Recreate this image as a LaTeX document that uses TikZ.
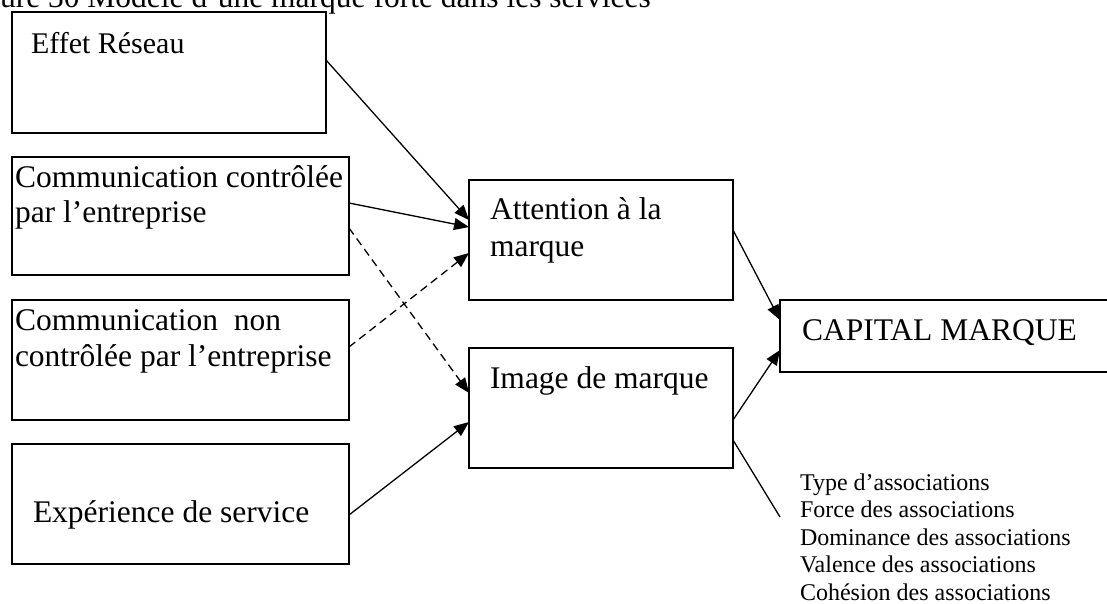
\documentclass[tikz,border=0pt]{standalone}
\usepackage{fontspec}
\setmainfont{Liberation Serif}
\usetikzlibrary{arrows.meta}
\begin{document}
\begin{tikzpicture}[x=1pt,y=-1pt,
  box/.style={draw,line width=1.5pt,anchor=north west,inner sep=0pt,outer sep=0pt},
  txt/.style={anchor=base west,inner sep=0pt,outer sep=0pt,font=\fontsize{31.5}{36}\selectfont},
  small/.style={anchor=base west,inner sep=0pt,outer sep=0pt,font=\fontsize{24}{27}\selectfont},
  link/.style={line width=1.3pt},
  arr/.style={link,-{Triangle[length=15pt,width=12pt]}},
  dash arr/.style={arr,dash pattern=on 8pt off 5pt}]
\useasboundingbox (0,0) rectangle (1107,603);
\clip (0,0) rectangle (1107,603);

% caption line above the figure
\node[txt] (title) at (-42,7) {Figure 30 Modèle d’une marque forte dans les services};

% source boxes on the left
\node[box,minimum width=314pt,minimum height=121pt] (eff) at (12,12) {};
\node[box,minimum width=337pt,minimum height=118pt] (cc) at (12,157) {};
\node[box,minimum width=337pt,minimum height=120pt] (nc) at (12,300) {};
\node[box,minimum width=337pt,minimum height=120pt] (exp) at (12,444) {};

% middle boxes
\node[box,minimum width=264pt,minimum height=120pt] (att) at (469,180) {};
\node[box,minimum width=264pt,minimum height=120pt] (img) at (469,348) {};

% outcome box
\node[box,minimum width=335pt,minimum height=72pt] (cap) at (780,300) {};

% box texts
\node[txt,font=\fontsize{30}{34}\selectfont] (t-eff) at (31,53) {Effet Réseau};
\node[txt] (t-cc1) at (15,187) {Communication contrôlée};
\node[txt] (t-cc2) at (15,222) {par l’entreprise};
\node[txt] (t-nc1) at (15,330) {Communication\ \ non};
\node[txt] (t-nc2) at (15,366) {contrôlée par l’entreprise};
\node[txt] (t-exp) at (33,522) {Expérience de service};
\node[txt] (t-att1) at (490,219) {Attention à la};
\node[txt] (t-att2) at (490,256) {marque};
\node[txt] (t-img) at (490,388) {Image de marque};
\node[txt] (t-cap) at (802,340) {CAPITAL MARQUE};

% dimensions of the brand image
\node[small] (l1) at (800,490) {Type d’associations};
\node[small] (l2) at (800,517.5) {Force des associations};
\node[small] (l3) at (800,545) {Dominance des associations};
\node[small] (l4) at (800,572.5) {Valence des associations};
\node[small] (l5) at (800,600) {Cohésion des associations};
\coordinate (lst) at (780,517);

% connectors
\draw[arr] ([yshift=-48pt]eff.north east) -- ([yshift=-40pt]att.north west);
\draw[arr] ([yshift=-46pt]cc.north east) -- ([yshift=-47pt]att.north west);
\draw[dash arr] ([yshift=-71pt]cc.north east) -- ([yshift=-45pt]img.north west);
\draw[dash arr] ([yshift=-47pt]nc.north east) -- ([yshift=-73pt]att.north west);
\draw[arr] ([yshift=-71pt]exp.north east) -- ([yshift=-74pt]img.north west);
\draw[arr] ([yshift=-50pt]att.north east) -- ([yshift=-20pt]cap.north west);
\draw[arr] ([yshift=-72pt]img.north east) -- ([yshift=-50pt]cap.north west);
\draw[link] ([yshift=-92pt]img.north east) -- (lst);
\end{tikzpicture}
\end{document}
